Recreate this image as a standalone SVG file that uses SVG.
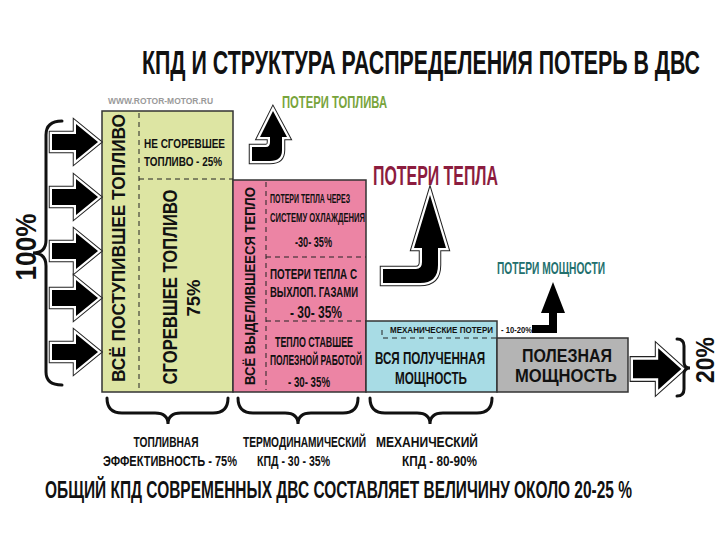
<svg xmlns="http://www.w3.org/2000/svg" width="720" height="540" viewBox="0 0 720 540">
<defs>
<style>
text{font-family:"Liberation Sans",Arial,sans-serif;font-weight:bold;fill:#111}
.box{stroke:#333;stroke-width:1.5}
.dash{stroke:#222;stroke-width:1;stroke-dasharray:5 4;fill:none}
.brace{fill:none;stroke:#111;stroke-width:3;stroke-linecap:round}
.ol1{fill:#222;stroke:#222;stroke-width:6.5;stroke-linejoin:miter}
.ol2{fill:#fff;stroke:#fff;stroke-width:4.5;stroke-linejoin:miter}
.ol3{fill:#000;stroke:none}
</style>
<path id="ra" d="M0 -8 L24 -8 L24 -18 L46 0 L24 18 L24 8 L0 8 Z"/>
</defs>
<rect width="720" height="540" fill="#fff"/>

<g id="title">
<text x="142" y="74" font-size="34" textLength="558" lengthAdjust="spacingAndGlyphs">КПД  И СТРУКТУРА  РАСПРЕДЕЛЕНИЯ ПОТЕРЬ В ДВС</text>
<text x="108" y="104" font-size="9" style="fill:#9a9a9a" textLength="105" lengthAdjust="spacingAndGlyphs">WWW.ROTOR-MOTOR.RU</text>
</g>

<g id="fuel">
<rect class="box" x="102" y="111" width="131" height="281" fill="#dde5a3"/>
<line class="dash" x1="139" y1="113" x2="139" y2="390"/>
<line class="dash" x1="139" y1="179" x2="233" y2="179"/>
<text transform="translate(125,248) rotate(-90)" font-size="19" text-anchor="middle" textLength="268" lengthAdjust="spacingAndGlyphs">ВСЁ ПОСТУПИВШЕЕ ТОПЛИВО</text>
<text transform="translate(177,287) rotate(-90)" font-size="20" text-anchor="middle" textLength="195" lengthAdjust="spacingAndGlyphs">СГОРЕВШЕЕ ТОПЛИВО</text>
<text transform="translate(200,298) rotate(-90)" font-size="19" text-anchor="middle" textLength="37" lengthAdjust="spacingAndGlyphs">75%</text>
<text x="144" y="148" font-size="13" textLength="81" lengthAdjust="spacingAndGlyphs">НЕ СГОРЕВШЕЕ</text>
<text x="144" y="166" font-size="13" textLength="78" lengthAdjust="spacingAndGlyphs">ТОПЛИВО - 25%</text>
</g>

<g id="heat">
<rect class="box" x="233" y="180" width="133" height="212" fill="#ec84a4"/>
<line class="dash" x1="266" y1="182" x2="266" y2="390"/>
<line class="dash" x1="266" y1="257" x2="366" y2="257"/>
<line class="dash" x1="266" y1="321" x2="366" y2="321"/>
<text transform="translate(255,286) rotate(-90)" font-size="15" text-anchor="middle" textLength="198" lengthAdjust="spacingAndGlyphs">ВСЁ ВЫДЕЛИВШЕЕСЯ ТЕПЛО</text>
<text x="270" y="203" font-size="13" textLength="80" lengthAdjust="spacingAndGlyphs">ПОТЕРИ ТЕПЛА ЧЕРЕЗ</text>
<text x="270" y="222" font-size="13" textLength="95" lengthAdjust="spacingAndGlyphs">СИСТЕМУ ОХЛАЖДЕНИЯ</text>
<text x="295" y="247" font-size="14" textLength="37" lengthAdjust="spacingAndGlyphs">-30- 35%</text>
<text x="270" y="279" font-size="14" textLength="87" lengthAdjust="spacingAndGlyphs">ПОТЕРИ ТЕПЛА С</text>
<text x="270" y="297" font-size="14" textLength="88" lengthAdjust="spacingAndGlyphs">ВЫХЛОП. ГАЗАМИ</text>
<text x="290" y="318" font-size="16" textLength="52" lengthAdjust="spacingAndGlyphs">- 30- 35%</text>
<text x="275" y="347" font-size="14" textLength="78" lengthAdjust="spacingAndGlyphs">ТЕПЛО СТАВШЕЕ</text>
<text x="270" y="365" font-size="14" textLength="92" lengthAdjust="spacingAndGlyphs">ПОЛЕЗНОЙ РАБОТОЙ</text>
<text x="288" y="387" font-size="14" textLength="42" lengthAdjust="spacingAndGlyphs">- 30- 35%</text>
</g>

<g id="power">
<rect class="box" x="366" y="321" width="131" height="71" fill="#a8dce5"/>
<path class="dash" d="M382 330 L382 338 L500 338"/>
<text x="390" y="333" font-size="9" textLength="103" lengthAdjust="spacingAndGlyphs">МЕХАНИЧЕСКИЕ ПОТЕРИ</text>
<text x="501" y="333" font-size="9" textLength="31" lengthAdjust="spacingAndGlyphs">- 10-20%</text>
<text x="375" y="364" font-size="17" textLength="110" lengthAdjust="spacingAndGlyphs">ВСЯ ПОЛУЧЕННАЯ</text>
<text x="395" y="384" font-size="17" textLength="72" lengthAdjust="spacingAndGlyphs">МОЩНОСТЬ</text>
</g>

<g id="useful">
<rect class="box" x="497" y="338" width="131" height="54" fill="#b4b4b4"/>
<text x="522" y="362" font-size="18" textLength="90" lengthAdjust="spacingAndGlyphs">ПОЛЕЗНАЯ</text>
<text x="515" y="382" font-size="18" textLength="102" lengthAdjust="spacingAndGlyphs">МОЩНОСТЬ</text>
</g>

<g id="loss-labels">
<text x="282" y="108" font-size="17" style="fill:#78a43c" textLength="105" lengthAdjust="spacingAndGlyphs">ПОТЕРИ  ТОПЛИВА</text>
<text x="373" y="185" font-size="27" style="fill:#8c1c3e" textLength="125" lengthAdjust="spacingAndGlyphs">ПОТЕРИ  ТЕПЛА</text>
<text x="497" y="274" font-size="17" style="fill:#23706e" textLength="108" lengthAdjust="spacingAndGlyphs">ПОТЕРИ  МОЩНОСТИ</text>
</g>

<g id="percent">
<text transform="translate(36,247) rotate(-90)" font-size="30" text-anchor="middle" textLength="67" lengthAdjust="spacingAndGlyphs">100%</text>
<text transform="translate(714,360) rotate(-90)" font-size="26" text-anchor="middle" textLength="46" lengthAdjust="spacingAndGlyphs">20%</text>
</g>

<g id="stage-labels">
<text x="166" y="447" font-size="15" text-anchor="middle" textLength="65" lengthAdjust="spacingAndGlyphs">ТОПЛИВНАЯ</text>
<text x="103" y="466" font-size="15" textLength="134" lengthAdjust="spacingAndGlyphs">ЭФФЕКТИВНОСТЬ - 75%</text>
<text x="243" y="447" font-size="15" textLength="123" lengthAdjust="spacingAndGlyphs">ТЕРМОДИНАМИЧЕСКИЙ</text>
<text x="257" y="466" font-size="15" textLength="73" lengthAdjust="spacingAndGlyphs">КПД  - 30 - 35%</text>
<text x="376" y="447" font-size="15" textLength="102" lengthAdjust="spacingAndGlyphs">МЕХАНИЧЕСКИЙ</text>
<text x="402" y="466" font-size="15" textLength="75" lengthAdjust="spacingAndGlyphs">КПД  -  80-90%</text>
<text x="45" y="498" font-size="23" textLength="587" lengthAdjust="spacingAndGlyphs">ОБЩИЙ  КПД  СОВРЕМЕННЫХ  ДВС  СОСТАВЛЯЕТ  ВЕЛИЧИНУ  ОКОЛО  20-25 %</text>
</g>

<g id="connectors">
<g id="input-arrows">
<use href="#ra" class="ol1" x="52" y="142"/><use href="#ra" class="ol2" x="52" y="142"/><use href="#ra" class="ol3" x="52" y="142"/>
<use href="#ra" class="ol1" x="52" y="197"/><use href="#ra" class="ol2" x="52" y="197"/><use href="#ra" class="ol3" x="52" y="197"/>
<use href="#ra" class="ol1" x="52" y="251"/><use href="#ra" class="ol2" x="52" y="251"/><use href="#ra" class="ol3" x="52" y="251"/>
<use href="#ra" class="ol1" x="52" y="298"/><use href="#ra" class="ol2" x="52" y="298"/><use href="#ra" class="ol3" x="52" y="298"/>
<use href="#ra" class="ol1" x="52" y="352"/><use href="#ra" class="ol2" x="52" y="352"/><use href="#ra" class="ol3" x="52" y="352"/>
</g>
<g id="output-arrow" transform="translate(633,369) scale(1.05,1.15)">
<use href="#ra" class="ol1"/><use href="#ra" class="ol2"/><use href="#ra" class="ol3"/>
</g>
<g id="fuel-loss-arrow">
<path class="ol1" d="M252 147 L266 147 Q270 147 270 142 L270 137 L260 137 L273 111 L287 137 L282 137 L282 150 Q282 161 270 161 L252 161 Z"/>
<path class="ol2" d="M252 147 L266 147 Q270 147 270 142 L270 137 L260 137 L273 111 L287 137 L282 137 L282 150 Q282 161 270 161 L252 161 Z"/>
<path class="ol3" d="M252 147 L266 147 Q270 147 270 142 L270 137 L260 137 L273 111 L287 137 L282 137 L282 150 Q282 161 270 161 L252 161 Z"/>
</g>
<g id="heat-loss-arrow">
<path class="ol1" d="M383 269 L416 269 Q422 269 422 262 L422 248 L414 248 L430 195 L446 248 L438 248 L438 265 Q438 283 420 283 L383 283 Z"/>
<path class="ol2" d="M383 269 L416 269 Q422 269 422 262 L422 248 L414 248 L430 195 L446 248 L438 248 L438 265 Q438 283 420 283 L383 283 Z"/>
<path class="ol3" d="M383 269 L416 269 Q422 269 422 262 L422 248 L414 248 L430 195 L446 248 L438 248 L438 265 Q438 283 420 283 L383 283 Z"/>
</g>
<path id="power-loss-arrow" fill="#000" d="M532 325 L549 325 L549 313 L541 313 L553 282 L565 313 L557 313 L557 333 L532 333 Z"/>
<g id="braces">
<path class="brace" d="M62 121 Q46 121 46 135 L46 240 Q46 253 33 253 Q46 253 46 266 L46 372 Q46 385 62 385"/>
<path class="brace" d="M677 339 Q684 339 684 346 L684 362 Q684 368 690 368 Q684 368 684 374 L684 389 Q684 396 677 396"/>
<path class="brace" d="M107 398 Q107 413 122 413 L155 413 Q168 413 168 424 Q168 413 181 413 L213 413 Q228 413 228 398"/>
<path class="brace" d="M238 398 Q238 413 253 413 L285 413 Q298 413 298 424 Q298 413 311 413 L343 413 Q358 413 358 398"/>
<path class="brace" d="M370 398 Q370 413 385 413 L417 413 Q430 413 430 424 Q430 413 443 413 L477 413 Q492 413 492 398"/>
</g>
</g>
</svg>
